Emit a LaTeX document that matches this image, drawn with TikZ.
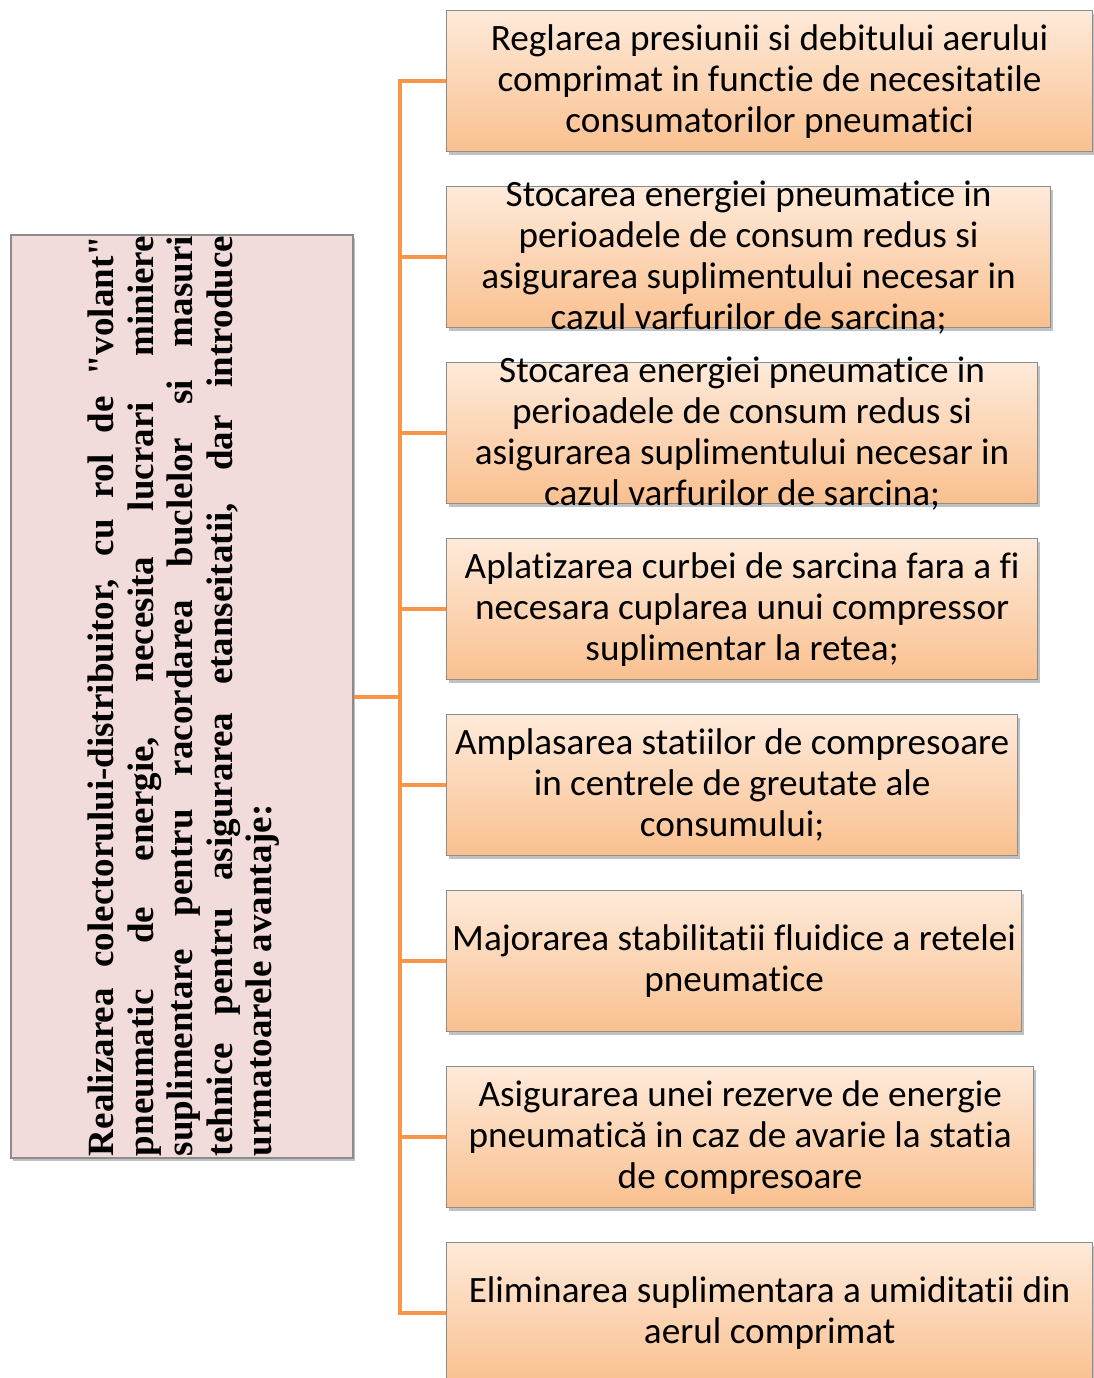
\documentclass[tikz,border=0pt]{standalone}
\usepackage{fontspec}
\setmainfont{Carlito}[Ligatures={NoCommon}]
\newfontfamily\titlefont{Liberation Serif}
\usetikzlibrary{shadows}
\definecolor{connline}{HTML}{F79646}
\definecolor{boxtop}{HTML}{FEEADA}
\definecolor{boxbot}{HTML}{FAC08F}
\definecolor{boxline}{HTML}{8C8C8C}
\definecolor{mainfill}{HTML}{F2DCDB}
\tikzset{
  itembox/.style={draw=boxline, line width=1.2pt, top color=boxtop, bottom color=boxbot,
    anchor=north west, inner sep=0pt, minimum height=141pt,
    drop shadow={shadow xshift=2pt, shadow yshift=-3pt, opacity=.35, fill=black!70}},
  itemtext/.style={align=center, inner sep=0pt, font=\fontsize{37.2}{41}\selectfont},
  mainbox/.style={draw=boxline, line width=1.2pt, fill=mainfill, inner sep=0pt,
    drop shadow={shadow xshift=2pt, shadow yshift=-3pt, opacity=.35, fill=black!70}},
  conn/.style={draw=connline, line width=4pt},
}
\newcommand{\fullline}[1]{\makebox[920pt][s]{#1}}
\begin{document}
\begin{tikzpicture}[x=1pt,y=-1pt]
\useasboundingbox (0,0) rectangle (1094,1378);

% main description box
\node[mainbox, minimum width=342pt, minimum height=923pt] (main) at (182,696.5) {};
\node[rotate=90, align=left, inner sep=0pt,
      font=\titlefont\bfseries\fontsize{37}{39.5}\selectfont] (maintext) at (184,696) {%
\fullline{Realizarea colectorului-distribuitor, cu rol de "volant"}\\
\fullline{pneumatic de energie, necesita lucrari miniere}\\
\fullline{suplimentare pentru racordarea buclelor si masuri}\\
\fullline{tehnice pentru asigurarea etanseitatii, dar introduce}\\
\makebox[920pt][l]{urmatoarele avantaje:}};

% advantage boxes
\node[itembox, minimum width=646pt] (b1) at (446,10) {};
\node[itembox, minimum width=604pt] (b2) at (446,186) {};
\node[itembox, minimum width=591pt] (b3) at (446,362) {};
\node[itembox, minimum width=591pt] (b4) at (446,538) {};
\node[itembox, minimum width=571pt] (b5) at (446,714) {};
\node[itembox, minimum width=575pt] (b6) at (446,890) {};
\node[itembox, minimum width=587pt] (b7) at (446,1066) {};
\node[itembox, minimum width=646pt] (b8) at (446,1242) {};

\node[itemtext] (t1) at (b1.center) {Reglarea presiunii si debitului aerului\\comprimat in functie de necesitatile\\consumatorilor pneumatici};
\node[itemtext] (t2) at (b2.center) {Stocarea energiei pneumatice in\\perioadele de consum redus si\\asigurarea suplimentului necesar in\\cazul varfurilor de sarcina;};
\node[itemtext] (t3) at (b3.center) {Stocarea energiei pneumatice in\\perioadele de consum redus si\\asigurarea suplimentului necesar in\\cazul varfurilor de sarcina;};
\node[itemtext] (t4) at (b4.center) {Aplatizarea curbei de sarcina fara a fi\\necesara cuplarea unui compressor\\suplimentar la retea;};
\node[itemtext] (t5) at (b5.center) {Amplasarea statiilor de compresoare\\in centrele de greutate ale\\consumului;};
\node[itemtext] (t6) at (b6.center) {Majorarea stabilitatii fluidice a retelei\\pneumatice};
\node[itemtext] (t7) at (b7.center) {Asigurarea unei rezerve de energie\\pneumatică in caz de avarie la statia\\de compresoare};
\node[itemtext] (t8) at (b8.center) {Eliminarea suplimentara a umiditatii din\\aerul comprimat};

% connectors
\coordinate (hub) at (400,696.5);
\draw[conn] (main.east) -- (hub);
\foreach \b in {b1,b2,b3,b4,b5,b6,b7,b8}
  \draw[conn] (hub) |- (\b.west);
\end{tikzpicture}
\end{document}
